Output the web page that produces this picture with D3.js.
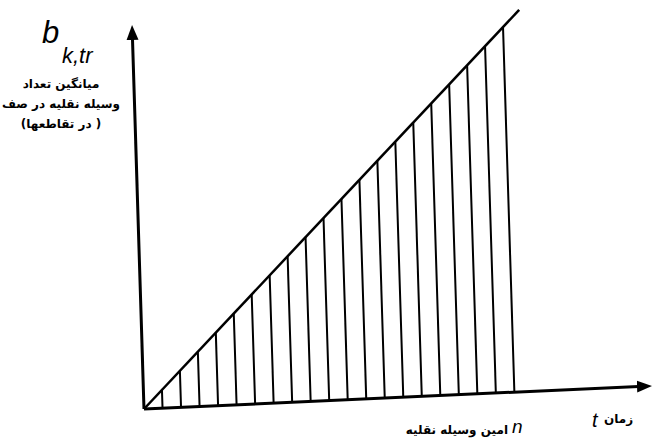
<!DOCTYPE html>
<html>
<head>
<meta charset="utf-8">
<script src="https://cdn.jsdelivr.net/npm/d3@7"></script>
<style>
  body { margin: 0; background: #fff; }
  svg { display: block; }
  .fa { font-family: "DejaVu Sans", sans-serif; font-weight: bold; font-size: 12px; direction: rtl; unicode-bidi: embed; }
  .sym { font-family: "Liberation Sans", Arial, sans-serif; font-style: italic; }
</style>
</head>
<body>
<svg id="chart" width="657" height="440"></svg>
<script>
// vehicle arrival index n (time of each hatch line)
const vehicleTimes = [1, 2, 3, 4, 5, 6, 7, 8, 9, 10, 11, 12, 13, 14, 15, 16, 17, 18, 19, 20];
// cumulative count reached at each vehicle (hatch top)
const vehicleCounts = [1, 2, 3, 4, 5, 6, 7, 8, 9, 10, 11, 12, 13, 14, 15, 16, 17, 18, 19, 20];
// cumulative arrival line
const lineTimes = [0, 20.9];
const lineCounts = [0, 20.9];
// axis extents
const tMax = 27;
const bMax = 20.6;
// labels
const yLabelLines = ["میانگین تعداد", "وسیله نقلیه در صف", "( در تقاطعها)"];
const xLabelVehicle = "امین وسیله نقلیه";
const xLabelTime = "زمان";

const svg = d3.select("#chart");

// hand drawn axes are a bit skewed, so map (t, b) through a slanted frame
const origin = [144, 409];
const ex = [1, -0.0455];   // direction of the time axis
const ey = [-0.0311, -1];  // direction of the count axis

const x = d3.scaleLinear().domain([0, tMax]).range([0, 500]);
const y = d3.scaleLinear().domain([0, bMax]).range([0, 376]);

const pt = (t, b) => {
  const a = x(t), h = y(b);
  return [origin[0] + a * ex[0] + h * ey[0], origin[1] + a * ex[1] + h * ey[1]];
};

const line = d3.line().x(d => d[0]).y(d => d[1]);

// arrow head
svg.append("defs").append("marker")
  .attr("id", "arrow")
  .attr("markerUnits", "userSpaceOnUse")
  .attr("viewBox", "0 -7 16 14")
  .attr("refX", 7)
  .attr("refY", 0)
  .attr("markerWidth", 16)
  .attr("markerHeight", 14)
  .attr("orient", "auto")
  .append("path")
  .attr("d", "M0,-6L15,0L0,6Z")
  .attr("fill", "#000");

// hatch lines
svg.selectAll(".hatch")
  .data(vehicleTimes)
  .enter()
  .append("path")
  .attr("class", "hatch")
  .attr("d", (t, i) => line([pt(t, 0), pt(t, vehicleCounts[i])]))
  .attr("stroke", "#000")
  .attr("stroke-width", 2)
  .attr("fill", "none");

// cumulative line
svg.append("path")
  .attr("d", line(lineTimes.map((t, i) => pt(t, lineCounts[i]))))
  .attr("stroke", "#000")
  .attr("stroke-width", 2.5)
  .attr("fill", "none");

// axes
svg.append("path")
  .attr("d", line([pt(0, 0), pt(tMax, 0)]))
  .attr("stroke", "#000")
  .attr("stroke-width", 3)
  .attr("marker-end", "url(#arrow)");

svg.append("path")
  .attr("d", line([pt(0, 0), pt(0, bMax)]))
  .attr("stroke", "#000")
  .attr("stroke-width", 3)
  .attr("marker-end", "url(#arrow)");

// y axis title
const bLabel = svg.append("text")
  .attr("class", "sym")
  .attr("x", 42)
  .attr("y", 43)
  .attr("font-size", 31);
bLabel.append("tspan").text("b");
bLabel.append("tspan")
  .attr("x", 62)
  .attr("y", 63)
  .attr("font-size", 22)
  .text("k,tr");

svg.selectAll(".ylab")
  .data(yLabelLines)
  .enter()
  .append("text")
  .attr("class", "fa")
  .attr("x", 61)
  .attr("y", (d, i) => 88 + i * 20)
  .attr("text-anchor", "middle")
  .text(d => d);

// x axis titles (rtl: "start" is the right edge, "end" the left edge)
svg.append("text")
  .attr("class", "fa")
  .attr("x", 508)
  .attr("y", 434)
  .attr("text-anchor", "start")
  .text(xLabelVehicle);

svg.append("text")
  .attr("class", "sym")
  .attr("x", 512)
  .attr("y", 433)
  .attr("font-size", 19)
  .text("n");

svg.append("text")
  .attr("class", "sym")
  .attr("x", 592)
  .attr("y", 427)
  .attr("font-size", 20)
  .text("t");

svg.append("text")
  .attr("class", "fa")
  .attr("x", 604)
  .attr("y", 423)
  .attr("font-size", 13)
  .attr("text-anchor", "end")
  .text(xLabelTime);
</script>
</body>
</html>
